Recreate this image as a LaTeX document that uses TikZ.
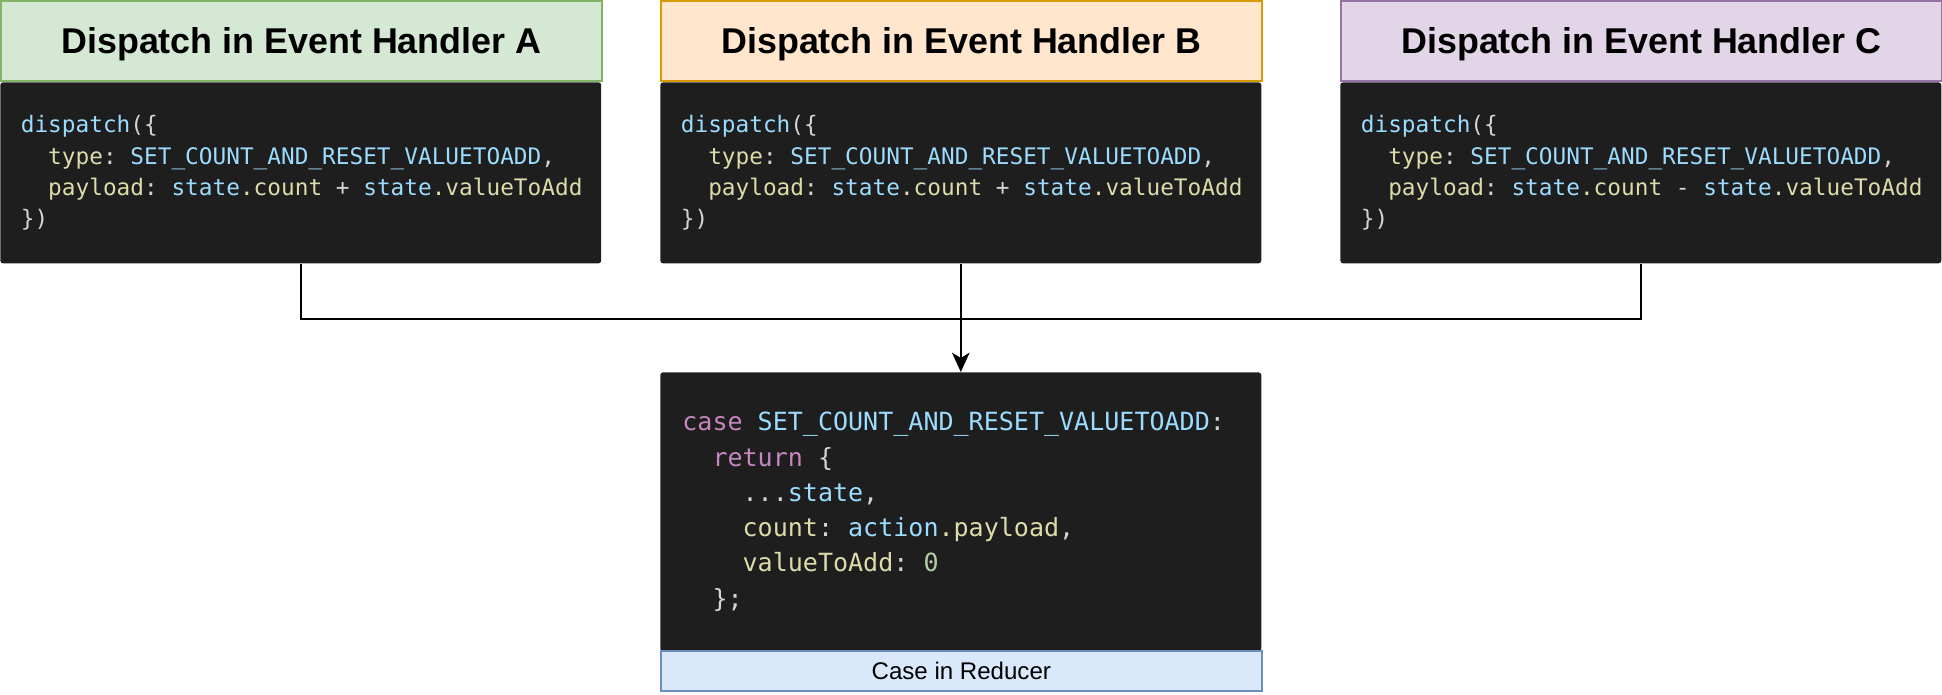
\documentclass[tikz,border=0pt]{standalone}
\usepackage{fontspec}
\usepackage{xcolor}
\usetikzlibrary{arrows.meta}
\setmainfont{Liberation Sans}
\newfontfamily\codefont{DejaVu Sans Mono}
\frenchspacing

\definecolor{codebg}{HTML}{1E1E1E}
\definecolor{cwhite}{HTML}{D4D4D4}
\definecolor{cblue}{HTML}{9CDCFE}
\definecolor{cbeige}{HTML}{DCDCAA}
\definecolor{cpink}{HTML}{C586C0}
\definecolor{cgreen}{HTML}{B5CEA8}

\newcommand{\cvar}[1]{\textcolor{cblue}{#1}}
\newcommand{\cprop}[1]{\textcolor{cbeige}{#1}}
\newcommand{\ckey}[1]{\textcolor{cpink}{#1}}
\newcommand{\cnum}[1]{\textcolor{cgreen}{#1}}
\newcommand{\codeind}{\phantom{xx}}

\begin{document}
\begin{tikzpicture}[x=0.02cm, y=-0.02cm,
        header/.style={draw, line width=1pt, anchor=north west, minimum width=12.02cm,
            minimum height=1.6cm, inner sep=0pt, text depth=0pt, font=\bfseries\fontsize{20.4}{24}\selectfont},
        codebox/.style={fill=codebg, rounded corners=1.5pt, anchor=north west,
            minimum width=12.02cm, inner sep=0pt},
        codetext/.style={anchor=west, inner sep=0pt, align=left, text=cwhite},
        wire/.style={line width=1.2pt, black}]
        \useasboundingbox (0, 0) rectangle (1942, 694);

        % three handlers
        \node[codebox, minimum height=3.62cm] (codeA) at (0, 82) {};
        \node[codebox, minimum height=3.62cm] (codeB) at (660, 82) {};
        \node[codebox, minimum height=3.62cm] (codeC) at (1340, 82) {};

        \node[header, fill={rgb,255:red,213;green,232;blue,212}, draw={rgb,255:red,130;green,179;blue,102}] (hdrA) at (0, 0) {Dispatch in Event Handler A};
        \node[header, fill={rgb,255:red,255;green,230;blue,204}, draw={rgb,255:red,215;green,155;blue,0}] (hdrB) at (660, 0) {Dispatch in Event Handler B};
        \node[header, fill={rgb,255:red,225;green,213;blue,231}, draw={rgb,255:red,150;green,115;blue,166}] (hdrC) at (1340, 0) {Dispatch in Event Handler C};

        \node[codetext, font=\codefont\fontsize{12.95}{17.7}\selectfont] (txtA) at ([xshift=0.41cm]codeA.west) {%
            \cvar{dispatch}(\{\\
            \codeind\cprop{type}: \cvar{SET\_COUNT\_AND\_RESET\_VALUETOADD},\\
            \codeind\cprop{payload}: \cvar{state}\cprop{.count} + \cvar{state}\cprop{.valueToAdd}\\
            \})};
        \node[codetext, font=\codefont\fontsize{12.95}{17.7}\selectfont] (txtB) at ([xshift=0.41cm]codeB.west) {%
            \cvar{dispatch}(\{\\
            \codeind\cprop{type}: \cvar{SET\_COUNT\_AND\_RESET\_VALUETOADD},\\
            \codeind\cprop{payload}: \cvar{state}\cprop{.count} + \cvar{state}\cprop{.valueToAdd}\\
            \})};
        \node[codetext, font=\codefont\fontsize{12.95}{17.7}\selectfont] (txtC) at ([xshift=0.41cm]codeC.west) {%
            \cvar{dispatch}(\{\\
            \codeind\cprop{type}: \cvar{SET\_COUNT\_AND\_RESET\_VALUETOADD},\\
            \codeind\cprop{payload}: \cvar{state}\cprop{.count} - \cvar{state}\cprop{.valueToAdd}\\
            \})};

        % reducer
        \node[codebox, minimum height=5.58cm] (reducer) at (660, 372) {};
        \node[codetext, font=\codefont\fontsize{14.25}{20.07}\selectfont] (txtR) at ([xshift=0.44cm]reducer.west) {%
            \ckey{case} \cvar{SET\_COUNT\_AND\_RESET\_VALUETOADD}:\\
            \codeind\ckey{return} \{\\
            \codeind\codeind...\cvar{state},\\
            \codeind\codeind\cprop{count}: \cvar{action}\cprop{.payload},\\
            \codeind\codeind\cprop{valueToAdd}: \cnum{0}\\
            \codeind\};};
        \node[draw={rgb,255:red,108;green,142;blue,191}, fill={rgb,255:red,218;green,232;blue,252}, line width=1pt,
            anchor=north west, minimum width=12.02cm, minimum height=0.8cm, inner sep=0pt,
            font=\fontsize{13.7}{16}\selectfont] (label) at (660, 650) {Case in Reducer};

        % connectors
        \coordinate (merge) at ([yshift=-1.1cm]codeB.south);
        \draw[wire] (codeA.south) |- (merge) -| (codeC.south);
        \draw[wire, -{Stealth[length=11pt, width=10pt, inset=3pt]}] (codeB.south) -- (reducer.north);
\end{tikzpicture}
\end{document}
